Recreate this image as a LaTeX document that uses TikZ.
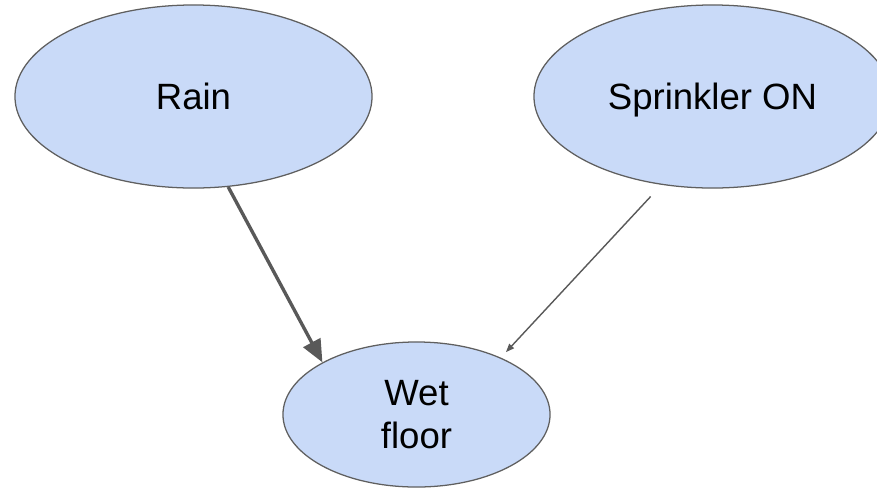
\documentclass[tikz,border=0pt]{standalone}
\usepackage{fontspec}
\setmainfont{Liberation Sans}
\usetikzlibrary{shapes.geometric,arrows.meta}
\definecolor{knotenblau}{HTML}{C9DAF8}
\definecolor{rand}{HTML}{5F5F5F}
\definecolor{pfeil}{HTML}{595959}
\begin{document}
\begin{tikzpicture}[x=0.025cm,y=-0.025cm,
		var/.style={ellipse,draw=rand,line width=0.9pt,fill=knotenblau,
			inner sep=0pt,text depth=0pt,align=center,
			font=\fontsize{26}{30.5}\selectfont},
		stark/.style={-{Triangle[length=16pt,width=13.5pt]},pfeil,line width=2.4pt},
		duenn/.style={-{Triangle[length=6pt,width=4.5pt]},pfeil,line width=1pt}]
		\clip (0,0) rectangle (877,489);
		% Knoten
		\node[var,minimum width=8.925cm,minimum height=4.575cm] (rain) at (193.5,96.5) {Rain};
		\node[var,minimum width=8.925cm,minimum height=4.575cm] (sprinkler) at (712.5,96.5) {Sprinkler ON};
		\node[var,minimum width=6.675cm,minimum height=3.625cm] (wet) at (416.5,414.5) {Wet\\floor};
		% Pfeile
		\draw[stark] (rain.-69) -- (wet.151);
		\draw[duenn,shorten <=11.3pt,shorten >=5.3pt] (sprinkler.-120.5) -- (wet.34.7);
	\end{tikzpicture}
\end{document}
